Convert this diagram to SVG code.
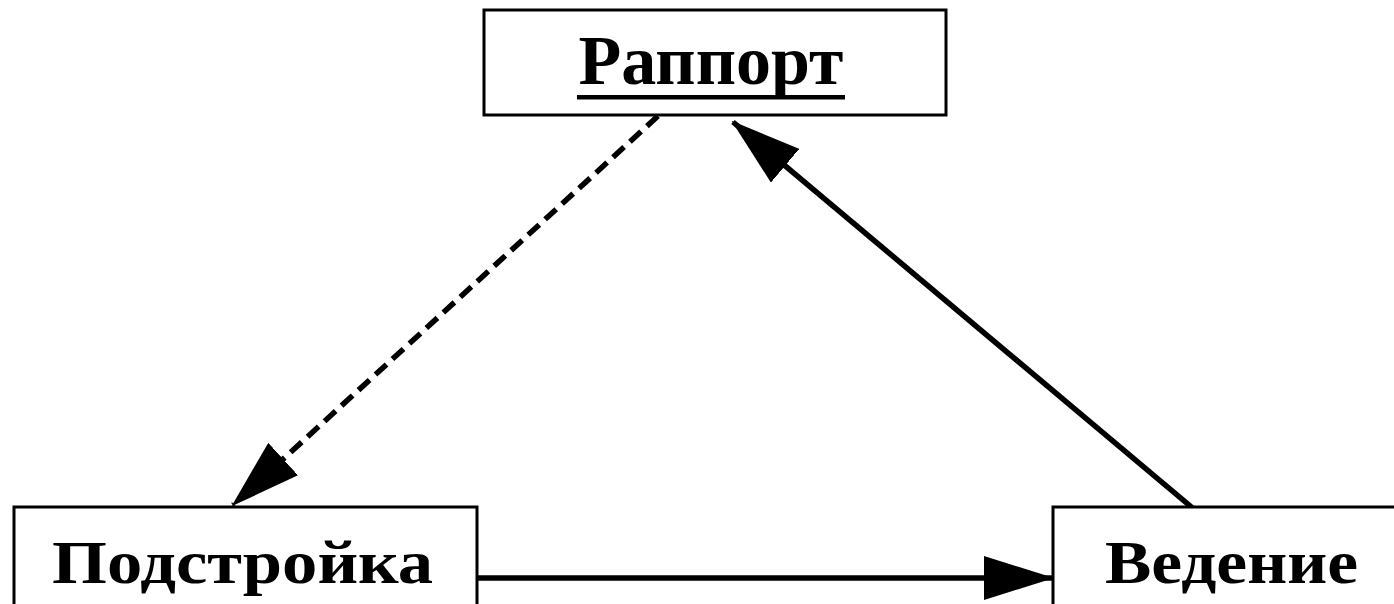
<svg xmlns="http://www.w3.org/2000/svg" width="1394" height="604" viewBox="0 0 1394 604">
<style>
.box{fill:#fff;stroke:#000;stroke-width:3}
.lbl{font-family:"Liberation Serif","Times New Roman",serif;font-weight:bold;fill:#000}
.conn{stroke:#000;stroke-width:5.5;fill:none}
</style>
<defs>
<marker id="ah" markerUnits="userSpaceOnUse" viewBox="0 0 70 44" refX="68" refY="22" markerWidth="70" markerHeight="44" orient="auto">
<path d="M0,0 L70,22 L0,44 Z" fill="#000"/>
</marker>
</defs>
<rect width="1394" height="604" fill="#fff"/>
<g id="connectors">
<line class="conn" x1="658" y1="116" x2="233" y2="505" stroke-dasharray="15,8" marker-end="url(#ah)"/>
<line class="conn" x1="1195" y1="510" x2="733" y2="122" marker-end="url(#ah)"/>
<line class="conn" x1="477" y1="578" x2="1052" y2="578" marker-end="url(#ah)"/>
</g>
<g id="node-rapport">
<rect class="box" x="484" y="10" width="462" height="105"/>
<text class="lbl" x="711" y="84" font-size="70" text-anchor="middle" textLength="265" lengthAdjust="spacingAndGlyphs">Раппорт</text>
<rect x="577" y="95" width="268" height="4.5" fill="#000"/>
</g>
<g id="node-podstroika">
<rect class="box" x="14" y="507" width="463" height="110"/>
<text class="lbl" x="52" y="583" font-size="62" textLength="381" lengthAdjust="spacingAndGlyphs">Подстройка</text>
</g>
<g id="node-vedenie">
<rect class="box" x="1053" y="507" width="360" height="110"/>
<text class="lbl" x="1105" y="583" font-size="62" textLength="253" lengthAdjust="spacingAndGlyphs">Ведение</text>
</g>
</svg>
